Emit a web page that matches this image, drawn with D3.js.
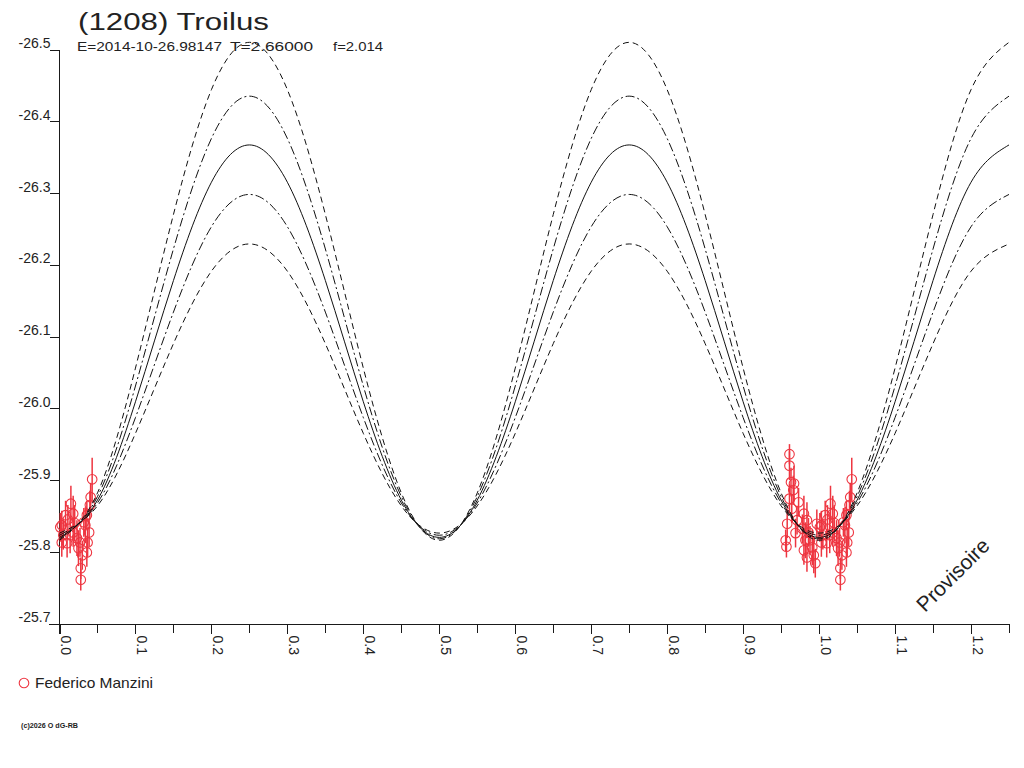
<!DOCTYPE html>
<html>
<head>
<meta charset="utf-8">
<script src="https://cdn.jsdelivr.net/npm/d3@7"></script>
<style>
  body { margin: 0; background: #fff; }
  svg { display: block; font-family: "Liberation Sans", Arial, sans-serif; }
</style>
</head>
<body>
<svg id="chart" width="1024" height="768"></svg>
<script>
// phase grid of the model curves
const phases = [0, 0.05, 0.10, 0.15, 0.20, 0.25, 0.30, 0.35, 0.40, 0.45, 0.50, 0.55, 0.60,
  0.65, 0.70, 0.75, 0.80, 0.85, 0.90, 0.95, 1.00, 1.05, 1.10, 1.15, 1.20, 1.25]

// five model curves, from largest amplitude to smallest
const curveDashHigh = [-25.816, -25.882, -26.056, -26.270, -26.444, -26.510, -26.444, -26.270, -26.056, -25.882, -25.816,
  -25.882, -26.056, -26.270, -26.444, -26.510, -26.444, -26.270, -26.056, -25.882, -25.816,
  -25.882, -26.056, -26.270, -26.444, -26.510]
const curveDotHigh = [-25.818, -25.877, -26.031, -26.222, -26.376, -26.435, -26.376, -26.222, -26.031, -25.877, -25.818,
  -25.877, -26.031, -26.222, -26.376, -26.435, -26.376, -26.222, -26.031, -25.877, -25.818,
  -25.877, -26.031, -26.222, -26.376, -26.435]
const curveMid = [-25.820, -25.872, -26.009, -26.178, -26.315, -26.367, -26.315, -26.178, -26.009, -25.872, -25.820,
  -25.872, -26.009, -26.178, -26.315, -26.367, -26.315, -26.178, -26.009, -25.872, -25.820,
  -25.872, -26.009, -26.178, -26.315, -26.367]
const curveDotLow = [-25.823, -25.868, -25.987, -26.134, -26.253, -26.298, -26.253, -26.134, -25.987, -25.868, -25.823,
  -25.868, -25.987, -26.134, -26.253, -26.298, -26.253, -26.134, -25.987, -25.868, -25.823,
  -25.868, -25.987, -26.134, -26.253, -26.298]
const curveDashLow = [-25.826, -25.864, -25.965, -26.090, -26.191, -26.229, -26.191, -26.090, -25.965, -25.864, -25.826,
  -25.864, -25.965, -26.090, -26.191, -26.229, -26.191, -26.090, -25.965, -25.864, -25.826,
  -25.864, -25.965, -26.090, -26.191, -26.229]

// observations (phase, reduced magnitude, error)
const obsPhase = [0.961, 0.961, 0.963, 0.967, 0.966, 0.961, 0.973, 0.964, 0.958, 0.956, 0.957, 0.980, 0.984,
  0.978, 0.986, 0.982, 0.988, 0.980, 0.984, 0.993, 0.995, 0.991, 0.997, 0.971, 0.969,
  0.043, 0.041, 0.040, 0.036, 0.034, 0.015, 0.018, 0.008, 0.003, 0.001, 0.005, 0.003, 0.014,
  0.018, 0.023, 0.027, 0.025, 0.030, 0.028, 0.028, 0.037, 0.039, 0.032, 0.010, 0.036, 0.020, 0.011]
const obsMag = [-25.936, -25.920, -25.897, -25.895, -25.886, -25.874, -25.869, -25.860, -25.839, -25.816, -25.807, -25.853, -25.844,
  -25.832, -25.827, -25.816, -25.816, -25.802, -25.792, -25.795, -25.784, -25.806, -25.839, -25.844, -25.826,
  -25.901, -25.876, -25.865, -25.851, -25.837, -25.867, -25.853, -25.851, -25.837, -25.834, -25.823, -25.813, -25.823,
  -25.827, -25.819, -25.813, -25.805, -25.795, -25.777, -25.761, -25.813, -25.827, -25.841, -25.812, -25.799, -25.840, -25.845]
const obsErr = [0.014, 0.020, 0.020, 0.025, 0.020, 0.020, 0.020, 0.020, 0.020, 0.015, 0.015, 0.025, 0.025,
  0.020, 0.020, 0.025, 0.020, 0.020, 0.020, 0.025, 0.020, 0.025, 0.020, 0.020, 0.020,
  0.030, 0.020, 0.020, 0.020, 0.025, 0.025, 0.025, 0.020, 0.020, 0.020, 0.020, 0.020, 0.025,
  0.020, 0.025, 0.020, 0.025, 0.020, 0.015, 0.015, 0.020, 0.020, 0.020, 0.020, 0.020, 0.025, 0.020]

const xMajorTicks = [0, 0.1, 0.2, 0.3, 0.4, 0.5, 0.6, 0.7, 0.8, 0.9, 1.0, 1.1, 1.2]
const xMinorTicks = [0.05, 0.15, 0.25, 0.35, 0.45, 0.55, 0.65, 0.75, 0.85, 0.95, 1.05, 1.15, 1.25]
const xTickLabels = ['0.0', '0.1', '0.2', '0.3', '0.4', '0.5', '0.6', '0.7', '0.8', '0.9', '1.0', '1.1', '1.2']
const yTicks = [-26.5, -26.4, -26.3, -26.2, -26.1, -26.0, -25.9, -25.8, -25.7]
const yTickLabels = ['-26.5', '-26.4', '-26.3', '-26.2', '-26.1', '-26.0', '-25.9', '-25.8', '-25.7']

const red = '#ee3540'
const ink = '#1a1a1a'

const svg = d3.select('#chart')

const x = d3.scaleLinear().domain([0, 1.25]).range([59.5, 1009])
const y = d3.scaleLinear().domain([-26.5, -25.7]).range([49.5, 623.5])

// axes
const xAxis = svg.append('g')
  .attr('transform', `translate(0,${y(-25.7)})`)
  .style('shape-rendering', 'crispEdges')
  .call(d3.axisBottom(x).tickValues(xMajorTicks).tickSize(10).tickFormat((d, i) => xTickLabels[i]))
xAxis.select('.domain').remove()
xAxis.selectAll('line').attr('stroke', ink)
xAxis.selectAll('text')
  .attr('x', 0).attr('y', 0).attr('dy', null)
  .attr('transform', 'translate(1,12) rotate(90)')
  .style('text-anchor', 'start')
  .style('font-size', '14px')
  .style('font-family', '"Liberation Sans", Arial, sans-serif')
  .attr('fill', '#222')

xAxis.selectAll('.minor')
  .data(xMinorTicks)
  .enter().append('line')
    .attr('class', 'minor')
    .attr('x1', (d) => x(d)).attr('x2', (d) => x(d))
    .attr('y1', 0).attr('y2', 9)
    .attr('stroke', ink)

xAxis.append('line')
  .attr('x1', 49).attr('x2', x(1.25))
  .attr('y1', 0.5).attr('y2', 0.5)
  .attr('stroke', ink)

const yAxis = svg.append('g')
  .attr('transform', `translate(${x(0)},0)`)
  .style('shape-rendering', 'crispEdges')
  .call(d3.axisLeft(y).tickValues(yTicks).tickSize(10).tickFormat((d, i) => yTickLabels[i]))
yAxis.select('.domain').remove()
yAxis.selectAll('line').attr('stroke', ink)
yAxis.selectAll('text')
  .attr('x', -9).attr('y', -2).attr('dy', null)
  .style('font-size', '14px')
  .style('font-family', '"Liberation Sans", Arial, sans-serif')
  .attr('fill', '#222')
yAxis.append('line')
  .attr('x1', 0).attr('x2', 0)
  .attr('y1', y(-26.5)).attr('y2', y(-25.7) + 10)
  .attr('stroke', ink)

// observations, repeated one cycle later where it still fits
const obs = []
obsPhase.forEach((p, i) => {
  [p, p + 1].forEach((q) => {
    if (q >= 0 && q <= 1.25) obs.push({ phase: q, mag: obsMag[i], err: obsErr[i] })
  })
})

const points = svg.append('g').attr('class', 'obs')
points.selectAll('line')
  .data(obs)
  .enter().append('line')
    .attr('x1', (d) => x(d.phase)).attr('x2', (d) => x(d.phase))
    .attr('y1', (d) => y(d.mag - d.err)).attr('y2', (d) => y(d.mag + d.err))
    .attr('stroke', red)
    .attr('stroke-width', 1.5)
points.selectAll('circle')
  .data(obs)
  .enter().append('circle')
    .attr('cx', (d) => x(d.phase))
    .attr('cy', (d) => y(d.mag))
    .attr('r', 4.8)
    .attr('fill', 'none')
    .attr('stroke', red)
    .attr('stroke-width', 1.1)

// model curves
const curves = [
  { values: curveDashHigh, dash: '6,4' },
  { values: curveDotHigh, dash: '9,3,2,3' },
  { values: curveMid, dash: null },
  { values: curveDotLow, dash: '9,3,2,3' },
  { values: curveDashLow, dash: '6,4' }
]

const line = d3.line()
  .x((d, i) => x(phases[i]))
  .y((d) => y(d))
  .curve(d3.curveNatural)

svg.append('g').attr('class', 'curves')
  .selectAll('path')
  .data(curves)
  .enter().append('path')
    .attr('d', (d) => line(d.values))
    .attr('fill', 'none')
    .attr('stroke', '#111')
    .attr('stroke-width', 1)
    .attr('stroke-dasharray', (d) => d.dash)

// titles
svg.append('text')
  .attr('x', 78).attr('y', 30)
  .attr('textLength', 191).attr('lengthAdjust', 'spacingAndGlyphs')
  .style('font-size', '23px')
  .attr('fill', '#222')
  .text('(1208) Troilus')

const sub = [
  { x: 77, w: 145, t: 'E=2014-10-26.98147' },
  { x: 230, w: 83, t: 'T=2.66000' },
  { x: 333, w: 50, t: 'f=2.014' }
]
svg.selectAll('.sub')
  .data(sub)
  .enter().append('text')
    .attr('class', 'sub')
    .attr('x', (d) => d.x).attr('y', 51)
    .attr('textLength', (d) => d.w).attr('lengthAdjust', 'spacingAndGlyphs')
    .style('font-size', '12px')
    .attr('fill', '#222')
    .text((d) => d.t)

svg.append('text')
  .attr('transform', 'translate(925,613) rotate(-45)')
  .style('font-size', '21px')
  .attr('fill', '#222')
  .text('Provisoire')

// legend
svg.append('circle')
  .attr('cx', 24).attr('cy', 683).attr('r', 4.8)
  .attr('fill', 'none').attr('stroke', red).attr('stroke-width', 1.1)
svg.append('text')
  .attr('x', 35).attr('y', 688)
  .attr('textLength', 118).attr('lengthAdjust', 'spacingAndGlyphs')
  .style('font-size', '14.5px')
  .attr('fill', '#222')
  .text('Federico Manzini')

svg.append('text')
  .attr('x', 21).attr('y', 728)
  .attr('textLength', 57).attr('lengthAdjust', 'spacingAndGlyphs')
  .style('font-size', '7.5px')
  .style('font-weight', 'bold')
  .attr('fill', '#222')
  .text('(c)2026 O dG-RB')
</script>
</body>
</html>
